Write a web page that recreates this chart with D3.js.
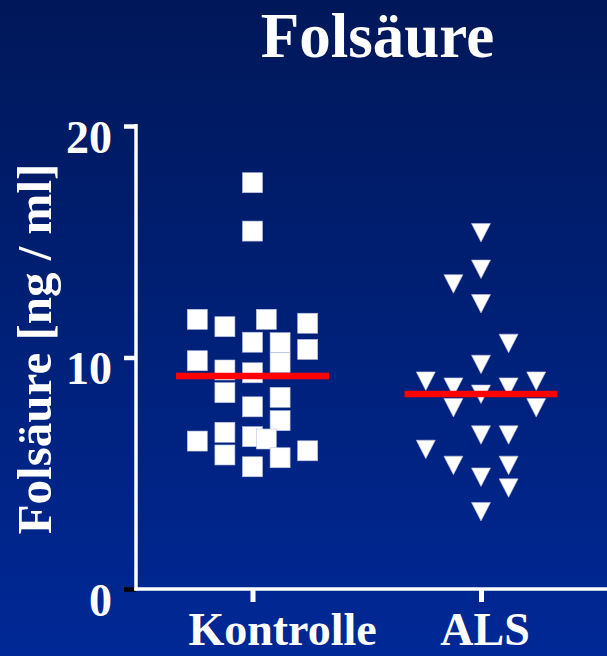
<!DOCTYPE html>
<html>
<head>
<meta charset="utf-8">
<script src="https://cdn.jsdelivr.net/npm/d3@7"></script>
<style>
  html, body { margin: 0; padding: 0; background: #001a5c; }
  svg { display: block; }
  text { font-family: "Liberation Serif", "Times New Roman", serif; font-weight: bold; fill: #ffffff; }
</style>
</head>
<body>
<div id="chart"></div>
<script>
// ---- data ----
const title = "Folsäure";
const yLabel = "Folsäure [ng / ml]";
const categories = ["Kontrolle", "ALS"];
const yTicks = [0, 10, 20];

const kontrolleValues = [17.55, 15.46, 11.65, 11.33, 11.65, 11.48, 10.66, 10.64, 10.35, 9.86,
                         9.46, 9.34, 9.78, 8.48, 7.87, 8.28, 7.27, 6.39, 6.77, 6.58,
                         6.48, 5.79, 5.28, 5.67, 5.97];
const kontrolleJitter = [0, 0, -2, -1, 0.5, 2, 0, 1, 2, -2,
                         -1, 0, 1, -1, 0, 1, 1, -2, -1, 0,
                         0.5, -1, 0, 1, 2];

const alsValues = [15.40, 13.82, 13.19, 12.33, 10.62, 9.71, 8.99, 8.73, 8.42, 8.73,
                   8.99, 7.84, 7.84, 6.66, 6.66, 6.04, 5.35, 5.35, 4.84, 4.37, 3.35];
const alsJitter = [0, 0, -1, 0, 1, 0, -2, -1, 0, 1,
                   2, -1, 2, 0, 1, -2, -1, 1, 0, 1, 0];

const means = [9.20, 8.42];

// ---- layout ----
const W = 607, H = 656;
const svg = d3.select("#chart").append("svg").attr("width", W).attr("height", H);

const defs = svg.append("defs");
const grad = defs.append("linearGradient").attr("id", "bg").attr("x1", 0).attr("y1", 0).attr("x2", 0).attr("y2", 1);
grad.append("stop").attr("offset", "0%").attr("stop-color", "#001859");
grad.append("stop").attr("offset", "100%").attr("stop-color", "#002896");
svg.append("rect").attr("width", W).attr("height", H).attr("fill", "url(#bg)");

const axisX = 136;
const y = d3.scaleLinear().domain([0, 20]).range([589, 126]);
const x = d3.scalePoint().domain(categories).range([252.5, 481]);
const jitterStep = 27.6;

// title
svg.append("text").attr("x", 377.5).attr("y", 57).attr("text-anchor", "middle")
  .style("font-size", "63px").text(title);

// y label
svg.append("text").attr("transform", "translate(51,349) rotate(-90)")
  .attr("text-anchor", "middle").style("font-size", "49px").text(yLabel);

// y axis
const gy = svg.append("g").attr("transform", `translate(${axisX},0)`)
  .call(d3.axisLeft(y).tickValues(yTicks).tickSize(12).tickPadding(12).tickFormat(d3.format("d")));
gy.select(".domain").remove();
gy.selectAll(".tick line").attr("stroke", d => d === 0 ? "#000000" : "#ffffff").attr("stroke-width", 4.5);
gy.selectAll(".tick text").attr("fill", "#ffffff").attr("dy", "26px")
  .style("font-size", "46px").style("font-family", "'Liberation Serif', serif").style("font-weight", "bold");
gy.append("line").attr("x1", 0).attr("x2", 0).attr("y1", y(20) - 2).attr("y2", y(0) + 1.5)
  .attr("stroke", "#ffffff").attr("stroke-width", 3.5);

// x axis
const gx = svg.append("g").attr("transform", `translate(0,${y(0)})`)
  .call(d3.axisBottom(x).tickSize(13).tickFormat(""));
gx.select(".domain").remove();
gx.selectAll(".tick line").attr("stroke", "#ffffff").attr("stroke-width", 5);
gx.append("line").attr("x1", axisX - 1.5).attr("x2", W).attr("y1", 0).attr("y2", 0)
  .attr("stroke", "#ffffff").attr("stroke-width", 3.5);

// category labels
const labelDx = [30, 4];
svg.selectAll(".catlabel").data(categories).join("text")
  .attr("class", "catlabel")
  .attr("x", (d, i) => x(d) + labelDx[i]).attr("y", 645)
  .attr("text-anchor", "middle").style("font-size", "46px").text(d => d);

// squares (Kontrolle)
const sq = 20;
const kData = kontrolleValues.map((v, i) => ({ v, j: kontrolleJitter[i] }));
svg.append("g").selectAll("rect").data(kData).join("rect")
  .attr("x", d => x("Kontrolle") + d.j * jitterStep - sq / 2)
  .attr("y", d => y(d.v) - sq / 2)
  .attr("width", sq).attr("height", sq)
  .attr("fill", "#ffffff").attr("stroke", "#b8bfdc").attr("stroke-width", 0.6);

// triangles (ALS)
const tri = "M-9.5,-9 L9.5,-9 L0,9.5 Z";
const aData = alsValues.map((v, i) => ({ v, j: alsJitter[i] }));
svg.append("g").selectAll("path").data(aData).join("path")
  .attr("d", tri)
  .attr("transform", d => `translate(${x("ALS") + d.j * jitterStep},${y(d.v)})`)
  .attr("fill", "#ffffff").attr("stroke", "#b8bfdc").attr("stroke-width", 0.6);

// mean lines
const halfLen = 76.5;
svg.append("g").selectAll("line").data(means).join("line")
  .attr("x1", (d, i) => x(categories[i]) - halfLen)
  .attr("x2", (d, i) => x(categories[i]) + halfLen)
  .attr("y1", d => y(d)).attr("y2", d => y(d))
  .attr("stroke", "#ff0000").attr("stroke-width", 6.5);
</script>
</body>
</html>
